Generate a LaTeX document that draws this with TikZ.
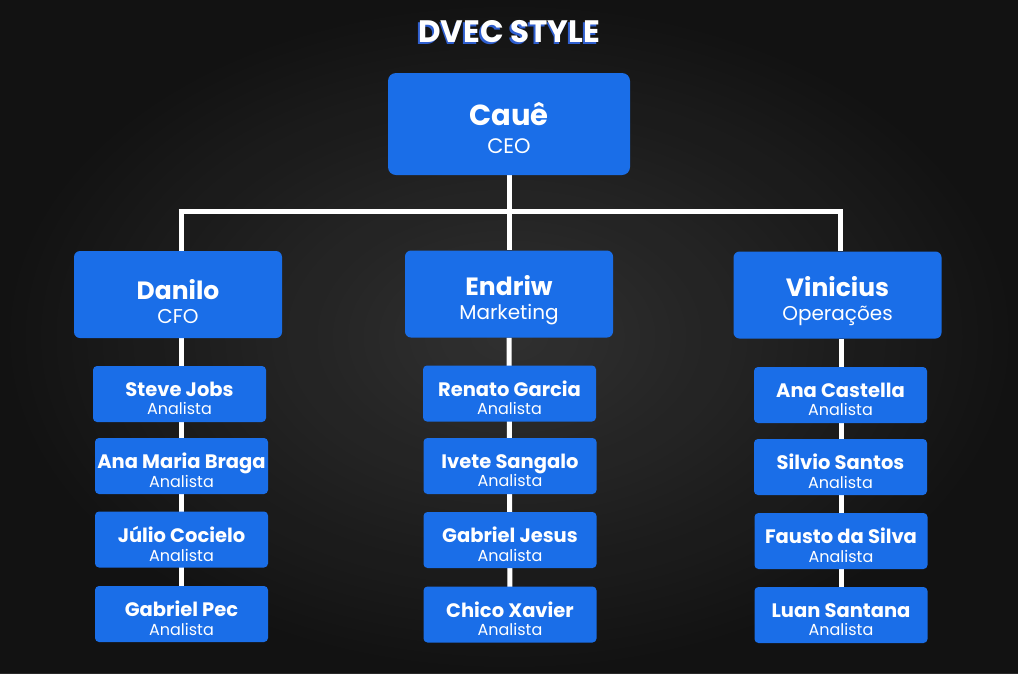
\documentclass[tikz,border=0pt]{standalone}
\usepackage{fontspec}
\setmainfont{Poppins}
\pgfdeclarelayer{bg}
\pgfdeclarelayer{lines}
\pgfsetlayers{bg,lines,main}
\newcommand{\bigname}[2]{{\fontsize{25}{25}\selectfont\bfseries #1}\\{#2}}
\newcommand{\smallname}[1]{{\fontsize{19.5}{19.5}\selectfont\bfseries #1}\\{Analista}}
\begin{document}
\begin{tikzpicture}[x=1pt,y=-1pt,
  box/.style={fill=boxblue,rounded corners=6pt,inner sep=0pt},
  boxtext/.style={inner sep=0pt,text=white,align=center},
  headbox/.style={box,minimum width=208pt,minimum height=87pt},
  headtext/.style={boxtext,font=\fontsize{20}{24}\selectfont},
  subbox/.style={box,minimum width=173pt,minimum height=56pt,rounded corners=4pt},
  subtext/.style={boxtext,font=\fontsize{16}{18.5}\selectfont},
  link/.style={draw=white,line width=5pt}]
\definecolor{boxblue}{HTML}{1A6EE8}
\definecolor{bgdark}{HTML}{1B1B1B}
\definecolor{titleblue}{HTML}{2F5FD0}
\useasboundingbox (0,0) rectangle (1018,673);
\begin{pgfonlayer}{bg}
\fill[bgdark] (0,0) rectangle (1018,673);
\shade[inner color=black!80,outer color=black!93,opacity=0.9] (0,0) rectangle (1018,673);
\end{pgfonlayer}
% title
\node[font=\bfseries\fontsize{31}{32}\selectfont,text=titleblue] (titleshadow) at (507.5,33.5) {DVEC STYLE};
\node[font=\bfseries\fontsize{31}{32}\selectfont,text=white] (title) at (509,32) {DVEC STYLE};
% boxes
\node[box,minimum width=242pt,minimum height=102pt,rounded corners=8pt] (ceo) at (509,124) {};
\node[boxtext,font=\fontsize{21}{28.5}\selectfont] (ceo-t) at ([yshift=-4pt]ceo.center)
  {{\fontsize{29}{29}\selectfont\bfseries Cauê}\\{CEO}};
\node[headbox] (danilo) at (178,294.5) {};
\node[headbox] (endriw) at (509,294) {};
\node[headbox] (vini) at (837.5,295) {};
\node[headtext] (danilo-t) at ([yshift=-7pt]danilo.center) {\bigname{Danilo}{CFO}};
\node[headtext] (endriw-t) at ([yshift=-6.5pt]endriw.center) {\bigname{Endriw}{Marketing}};
\node[headtext] (vini-t) at ([yshift=-6pt]vini.center) {\bigname{Vinicius}{Operações}};
\foreach \n/\x/\y/\t in {
  s1/179.5/394/Steve Jobs, s2/181.5/466/Ana Maria Braga, s3/181.5/539.5/Júlio Cocielo, s4/181.5/614/Gabriel Pec,
  m1/509.5/393.5/Renato Garcia, m2/510/466/Ivete Sangalo, m3/510/540/Gabriel Jesus, m4/510/614.5/Chico Xavier,
  r1/840.5/395/Ana Castella, r2/840.5/467/Silvio Santos, r3/841/541/Fausto da Silva, r4/841/615/Luan Santana}{
  \node[subbox] (\n) at (\x,\y) {};
  \node[subtext] (\n-t) at ([yshift=-4.5pt]\n.center) {\smallname{\t}};
}
% connectors
\coordinate (hm) at (509,211);
\coordinate (hl) at (181,211);
\coordinate (hr) at (840,211);
\begin{pgfonlayer}{lines}
\draw[link] (ceo.south) -- (hm);
\draw[link] ([xshift=-2.5pt]hl) -- ([xshift=2.5pt]hr);
\draw[link] (hl) -- (hl |- danilo.north);
\draw[link] (hr) -- (hr |- vini.north);
\draw[link] (hm) -- (endriw);
\draw[link] (danilo.south -| s4.north) -- (s4.center);
\draw[link] (endriw.south) -- (m4.center);
\draw[link] (vini.south -| r4.north) -- (r4.center);
\end{pgfonlayer}
\end{tikzpicture}
\end{document}
